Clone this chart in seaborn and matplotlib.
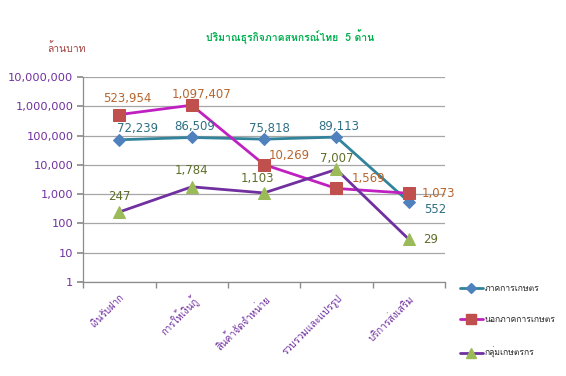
import matplotlib
matplotlib.use('Agg')
import matplotlib.pyplot as plt
import seaborn as sns
import pandas as pd
from matplotlib import font_manager
from matplotlib.lines import Line2D
from matplotlib.ticker import FixedLocator, FuncFormatter, NullFormatter

# data
categories = ['เงินรับฝาก', 'การให้เงินกู้', 'สินค้าจัดจำหน่าย', 'รวบรวมและแปรรูป', 'บริการส่งเสริม']
series_names = ['ภาคการเกษตร', 'นอกภาคการเกษตร', 'กลุ่มเกษตรกร']
agri = [72239, 86509, 75818, 89113, 552]
non_agri = [523954, 1097407, 10269, 1569, 1073]
farmer_groups = [247, 1784, 1103, 7007, 29]
y_ticks = [1, 10, 100, 1000, 10000, 100000, 1000000, 10000000]


def thai_font():
    # หาฟอนต์ที่มีตัวอักษรไทย
    for f in font_manager.fontManager.ttflist:
        try:
            ft = font_manager.get_font(f.fname)
            if 0x0E01 in ft.get_charmap():
                return f.name
        except Exception:
            pass
    return 'DejaVu Sans'


sns.set_theme(style='white')
th = thai_font()
plt.rcParams['font.family'] = [th, 'DejaVu Sans']

fig = plt.figure(figsize=(5.66, 3.76), dpi=100)
ax = fig.add_axes([0.147, 0.25, 0.639, 0.545])

styles = [
    dict(color='#31849B', marker='D', mfc='#4F81BD', ms=6.5, lms=5, tc='#2F6F84'),
    dict(color='#C020C0', marker='s', mfc='#C0504D', ms=8.5, lms=6.5, tc='#B8662E'),
    dict(color='#7030A0', marker='^', mfc='#9BBB59', ms=9, lms=6.5, tc='#5E6E2A'),
]
# offsets (px) for data labels
offsets = [
    [(18, 11), (3, 11), (5, 11), (2, 11), (27, -8)],
    [(8, 16), (10, 11), (25, 9), (32, 10), (30, 0)],
    [(0, 15), (0, 16), (-7, 14), (0, 11), (22, 0)],
]

handles = []
for name, vals, st, offs in zip(series_names, [agri, non_agri, farmer_groups], styles, offsets):
    df = pd.DataFrame({'cat': categories, 'val': vals})
    sns.lineplot(data=df, x='cat', y='val', ax=ax, color=st['color'], lw=2,
                 marker=st['marker'], markersize=st['ms'], markerfacecolor=st['mfc'],
                 markeredgecolor=st['mfc'], sort=False)
    handles.append(Line2D([], [], color=st['color'], lw=2, marker=st['marker'],
                          markersize=st['lms'], markerfacecolor=st['mfc'],
                          markeredgecolor=st['mfc']))
    for i, v in enumerate(vals):
        ax.annotate(f'{v:,}', (i, v), xytext=(offs[i][0] * 0.72, offs[i][1] * 0.72),
                    textcoords='offset points', ha='center', va='center',
                    fontsize=8.5, color=st['tc'], family='DejaVu Sans')

ax.set_yscale('log')
ax.set_ylim(1, 10000000)
ax.set_xlim(-0.5, 4.5)
ax.yaxis.set_major_locator(FixedLocator(y_ticks))
ax.yaxis.set_minor_formatter(NullFormatter())
ax.yaxis.set_minor_locator(FixedLocator([]))
ax.yaxis.set_major_formatter(FuncFormatter(lambda v, p: f'{int(round(v)):,}'))
ax.grid(axis='y', color='#A6A6A6', lw=0.9)
ax.grid(axis='x', visible=False)
for s in ['top', 'right']:
    ax.spines[s].set_visible(False)
for s in ['left', 'bottom']:
    ax.spines[s].set_color('#8C8C8C')
    ax.spines[s].set_linewidth(0.9)
ax.tick_params(axis='y', which='major', left=True, length=4, color='#8C8C8C',
               labelsize=8.2, labelcolor='#7030A0', pad=3)
for t in ax.get_yticklabels():
    t.set_family('DejaVu Sans')

ax.set_xticks(range(len(categories)))
ax.set_xticklabels(categories, rotation=45, ha='right', rotation_mode='anchor',
                   fontsize=7, color='#7030A0')
ax.tick_params(axis='x', which='major', length=0, pad=8)
ax.set_xticks([i - 0.5 for i in range(len(categories) + 1)], minor=True)
ax.tick_params(axis='x', which='minor', bottom=True, length=4, color='#8C8C8C')
ax.set_xlabel('')
ax.set_ylabel('')

fig.text(0.513, 0.90, 'ปริมาณธุรกิจภาคสหกรณ์ไทย  5 ด้าน', ha='center', va='center',
         fontsize=7.5, color='#00B050', fontweight='bold')
fig.text(0.118, 0.872, 'ล้านบาท', ha='center', va='center', fontsize=7.5, color='#A0403D')

fig.legend(handles, series_names, loc='upper left', bbox_to_anchor=(0.806, 0.254),
           frameon=False, fontsize=6.2, handlelength=2.7, labelspacing=2.6,
           numpoints=1, handletextpad=0.25, borderaxespad=0)

fig.savefig('out.png', dpi=100)
